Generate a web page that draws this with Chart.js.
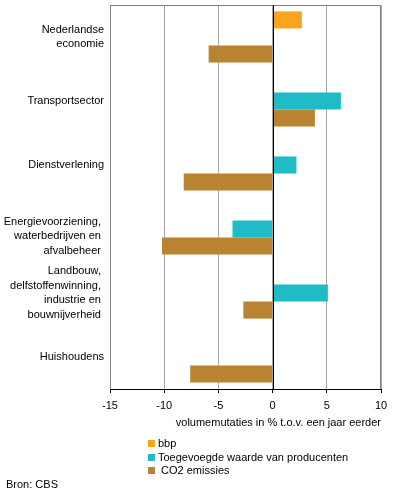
<!DOCTYPE html>
<html>
<head>
<meta charset="utf-8">
<script src="https://cdn.jsdelivr.net/npm/chart.js@4"></script>
<style>
  body { margin: 0; background: #fff; }
  #wrap { position: relative; width: 396px; height: 495px; }
  .legend { position: absolute; left: 148px; font: 11px "Liberation Sans", Arial, sans-serif; color: #000; white-space: pre; }
  .legend span { display: inline-block; width: 7px; height: 7px; margin-right: 3px; vertical-align: 0px; }
  #bron { position: absolute; left: 6px; top: 478px; font: 11px "Liberation Sans", Arial, sans-serif; }
</style>
</head>
<body>
<div id="wrap">
  <canvas id="myChart" width="396" height="495"></canvas>
  <div id="legend"></div>
  <div id="bron">Bron: CBS</div>
</div>
<script>
var categories = [
    ['Nederlandse', 'economie'],
    'Transportsector',
    'Dienstverlening',
    ['', 'Energievoorziening, ', 'waterbedrijven en ', 'afvalbeheer '],
    ['Landbouw, ', 'delfstoffenwinning, ', 'industrie en ', 'bouwnijverheid '],
    'Huishoudens'
];
var bbp = [2.7, null, null, null, null, null];
var toegevoegd = [null, 6.3, 2.2, -3.7, 5.1, null];
var co2 = [-5.9, 3.9, -8.2, -10.2, -2.7, -7.6];
var seriesNames = ['bbp', 'Toegevoegde waarde van producenten', ' CO2 emissies'];
var seriesColors = ['#f7a51e', '#1fbcc6', '#b98431'];

Chart.defaults.font.family = '"Liberation Sans", Arial, sans-serif';
Chart.defaults.font.size = 11;
Chart.defaults.color = '#000';

// grijze kader rond het plotgebied (boven, links, rechts)
var frame = {
    id: 'frame',
    afterDatasetsDraw: function (chart) {
        var a = chart.chartArea, c = chart.ctx;
        c.save();
        c.strokeStyle = '#808080';
        c.lineWidth = 1;
        c.beginPath();
        c.moveTo(a.left + 0.5, a.bottom);
        c.lineTo(a.left + 0.5, a.top + 0.5);
        c.lineTo(a.right - 0.5, a.top + 0.5);
        c.lineTo(a.right - 0.5, a.bottom);
        c.stroke();
        // nullijn
        var x0 = Math.round(chart.scales.x.getPixelForValue(0)) + 0.5;
        c.strokeStyle = '#000';
        c.beginPath();
        c.moveTo(x0, a.top);
        c.lineTo(x0, a.bottom);
        c.stroke();
        c.restore();
    }
};

var ctx = document.getElementById('myChart');
var myChart = new Chart(ctx, {
    type: 'bar',
    data: {
        labels: categories,
        datasets: [
            { label: seriesNames[0], data: bbp, backgroundColor: seriesColors[0] },
            { label: seriesNames[1], data: toegevoegd, backgroundColor: seriesColors[1] },
            { label: seriesNames[2], data: co2, backgroundColor: seriesColors[2] }
        ]
    },
    options: {
        indexAxis: 'y',
        responsive: false,
        animation: false,
        categoryPercentage: 0.8,
        barPercentage: 1,
        layout: { padding: { top: 5, right: 15, left: 0, bottom: 64 } },
        plugins: {
            legend: { display: false },
            tooltip: { enabled: false }
        },
        scales: {
            x: {
                min: -15,
                max: 10,
                ticks: { stepSize: 5, padding: 6 },
                grid: {
                    color: '#a6a6a6',
                    tickColor: '#000',
                    tickLength: 4
                },
                border: { color: '#000' },
                title: {
                    display: true,
                    text: 'volumemutaties in % t.o.v. een jaar eerder',
                    align: 'end',
                    padding: { top: 4, bottom: 1 }
                },
                afterFit: function (scale) {
                    scale.height = 42;
                    scale.paddingLeft = 0;
                    scale.paddingRight = 0;
                }
            },
            y: {
                grid: { display: false, drawTicks: false },
                border: { display: false },
                ticks: { padding: 6, font: { lineHeight: 1.33 } },
                afterFit: function (scale) {
                    scale.width = 110;
                    scale.paddingTop = 0;
                    scale.paddingBottom = 0;
                }
            }
        }
    },
    plugins: [frame]
});

var legendTop = [437, 451, 464];
var lg = document.getElementById('legend');
seriesNames.forEach(function (name, i) {
    var d = document.createElement('div');
    d.className = 'legend';
    d.style.top = legendTop[i] + 'px';
    d.innerHTML = '<span style="background:' + seriesColors[i] + '"></span>' + name;
    lg.appendChild(d);
});
</script>
</body>
</html>
